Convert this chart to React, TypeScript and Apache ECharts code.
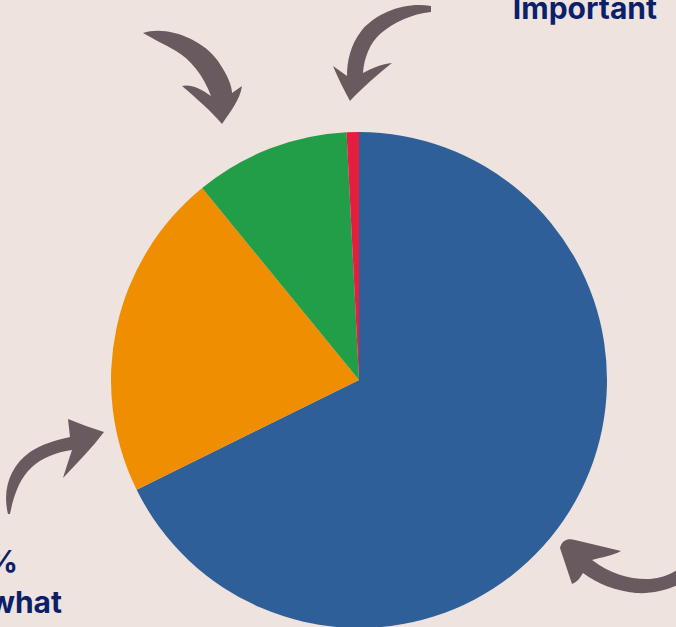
import React, { useEffect, useRef } from "react";
import * as echarts from "echarts";

const categories = ["Very Important", "Somewhat Important", "Not Very Important", "Not Important"];
const values = [67.7, 21.4, 10.1, 0.8];
const colors = ["#2E5F98", "#EE8E00", "#229E48", "#E51E3F"];
const pctLabels = ["68%", "21%", "10%", "1%"];
const wordLines = ["Somewhat", "Important"];

const ARROW = "#685A5F";
const TEXT = "#0C1F69";
const BG = "#EEE3DE";

const arrowPaths = [
  "M143,33 C165,25 202,38 218,61 C228,76 232,86 232,93 L242,86 C240,100 230,112 222,124 C212,112 196,98 182,86 C190,84 200,88 211,96 C204,76 190,59 176,51 C164,44 153,39 143,33 Z",
  "M431,6 C405,2 378,12 362,30 C350,45 347,62 347,76 L333,66 C338,78 344,90 350,101 C362,88 378,74 392,63 C382,64 372,68 363,73 C364,58 370,43 380,34 C394,22 412,14 431,12 Z",
  "M8,514 C2,490 10,466 30,452 C42,444 56,440 70,437 L68,419 C80,424 92,428 104,432 C92,448 78,462 63,478 C66,468 69,459 72,450 C56,452 42,458 32,467 C20,478 14,494 10,514 Z",
  "M560,548 C562,540 568,538 575,540 L621,551 C612,556 602,557 592,560 C610,574 632,580 650,579 C662,578 672,574 680,568 L680,584 C668,590 652,594 636,593 C616,591 598,584 583,573 C580,578 577,582 572,584 C568,572 564,560 560,548 Z",
];
arrowPaths.forEach((d, i) => {
  echarts.graphic.registerShape("deco_arrow" + i, echarts.graphic.extendPath(d, {}) as any);
});

export default function App() {
  const ref = useRef<HTMLDivElement>(null);
  useEffect(() => {
    document.body.style.margin = "0";
    const chart = echarts.init(ref.current!, null, { renderer: "svg" });
    const font = "Inter, 'Open Sans', sans-serif";
    const txt = (text: string, x: number, y: number) => ({
      type: "text",
      x,
      y,
      silent: true,
      style: {
        text,
        font: `bold 30px ${font}`,
        fill: TEXT,
        align: "right",
        verticalAlign: "top",
      },
    });
    chart.setOption({
      animation: false,
      backgroundColor: BG,
      series: [
        {
          type: "pie",
          center: [359, 380],
          radius: 248,
          startAngle: 90,
          clockwise: true,
          label: { show: false },
          labelLine: { show: false },
          emphasis: { disabled: true },
          itemStyle: { borderWidth: 0 },
          data: categories.map((c, i) => ({
            name: c,
            value: values[i],
            itemStyle: { color: colors[i] },
          })),
        },
      ],
      graphic: [
        ...arrowPaths.map((_, i) => ({
          type: "deco_arrow" + i,
          x: 0,
          y: 0,
          silent: true,
          style: { fill: ARROW },
        })),
        txt(wordLines[1], 657, -7),
        txt(pctLabels[1], 18, 546),
        txt(wordLines[0], 62, 587),
      ],
    });
    return () => chart.dispose();
  }, []);
  return <div ref={ref} style={{ position: "fixed", left: 0, top: 0, width: 676, height: 627 }} />;
}
